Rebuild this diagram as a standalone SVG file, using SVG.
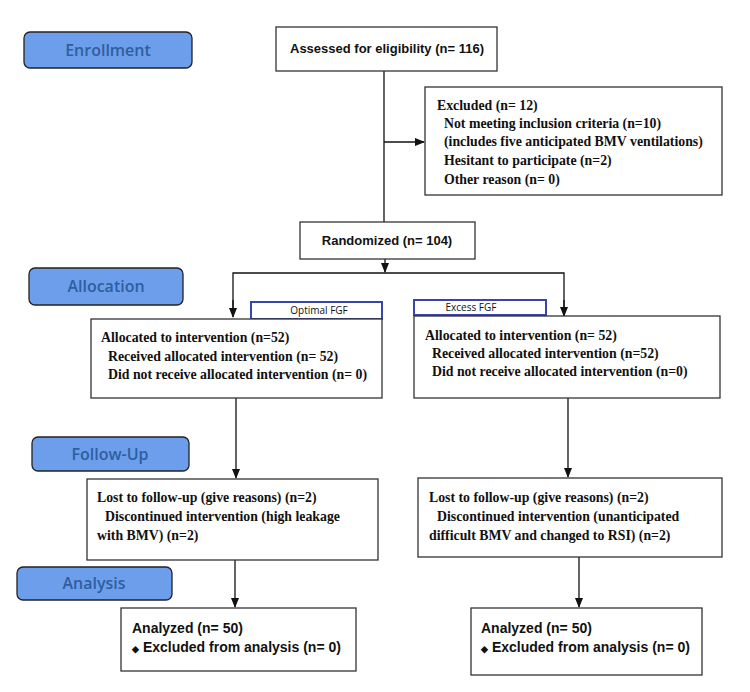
<svg xmlns="http://www.w3.org/2000/svg" width="750" height="692" viewBox="0 0 750 692">
<style>
.stage{fill:#6d9eeb;stroke:#222;stroke-width:1.3}
.stxt{font-family:"Open Sans","Noto Sans",sans-serif;font-weight:600;font-size:16px;fill:#2f5e9f;text-anchor:middle}
.box{fill:#fff;stroke:#333;stroke-width:1.3}
.tag{fill:#fff;stroke:#3a44b0;stroke-width:2}
.tagt{font-family:"Open Sans","Noto Sans",sans-serif;font-size:10px;fill:#111}
.tb{font-family:"Liberation Serif","Times New Roman",serif;font-weight:bold;font-size:13.8px;fill:#111}
.ab{font-family:"Liberation Sans",Arial,sans-serif;font-weight:bold;font-size:13px;fill:#111}
.an{font-family:"Liberation Sans",Arial,sans-serif;font-weight:bold;font-size:14px;fill:#111}
.ln{stroke:#111;stroke-width:1.3;fill:none}
</style>
<defs>
<marker id="ah" markerWidth="10" markerHeight="10" refX="9" refY="5" orient="auto" markerUnits="userSpaceOnUse">
<path d="M0,1 L10,5 L0,9 Z" fill="#111"/>
</marker>
</defs>
<rect width="750" height="692" fill="#fff"/>

<g id="enrollment"><rect class="stage" x="24" y="32" width="168" height="36" rx="6"/><text class="stxt" x="108" y="56">Enrollment</text></g>
<g id="allocation"><rect class="stage" x="29" y="268" width="154" height="37" rx="6"/><text class="stxt" x="106" y="292">Allocation</text></g>
<g id="followup"><rect class="stage" x="32" y="437" width="157" height="34" rx="6"/><text class="stxt" x="110" y="460">Follow-Up</text></g>
<g id="analysis"><rect class="stage" x="17" y="567" width="155" height="33" rx="6"/><text class="stxt" x="94" y="589">Analysis</text></g>

<g id="connectors">
<line class="ln" x1="384" y1="71" x2="384" y2="222"/>
<line class="ln" x1="384" y1="142" x2="424" y2="142" marker-end="url(#ah)"/>
<line class="ln" x1="385" y1="259" x2="385" y2="272" marker-end="url(#ah)"/>
<polyline class="ln" points="233,316 233,273 564,273 564,316"/>
<line class="ln" x1="233" y1="300" x2="233" y2="317" marker-end="url(#ah)"/>
<line class="ln" x1="564" y1="300" x2="564" y2="316" marker-end="url(#ah)"/>
<line class="ln" x1="236" y1="398" x2="236" y2="478" marker-end="url(#ah)"/>
<line class="ln" x1="568" y1="398" x2="568" y2="477" marker-end="url(#ah)"/>
<line class="ln" x1="235" y1="560" x2="235" y2="607" marker-end="url(#ah)"/>
<line class="ln" x1="579" y1="557" x2="579" y2="607" marker-end="url(#ah)"/>
</g>

<g id="assessed"><rect class="box" x="276" y="27" width="221" height="44"/><text class="ab" x="387" y="53" text-anchor="middle">Assessed for eligibility (n= 116)</text></g>

<g id="excluded"><rect class="box" x="425" y="87" width="297" height="108"/>
<text class="tb" x="437" y="110">Excluded (n= 12)</text>
<text class="tb" x="444" y="128">Not meeting inclusion criteria (n=10)</text>
<text class="tb" x="444" y="146">(includes five anticipated BMV ventilations)</text>
<text class="tb" x="444" y="165">Hesitant to participate (n=2)</text>
<text class="tb" x="444" y="184">Other reason (n= 0)</text>
</g>

<g id="randomized"><rect class="box" x="300" y="222" width="175" height="37"/><text class="ab" x="387" y="245" text-anchor="middle">Randomized (n= 104)</text></g>

<g id="optimal"><rect class="tag" x="251" y="302" width="131" height="17"/><text class="tagt" x="319" y="314" text-anchor="middle">Optimal FGF</text></g>
<g id="excess"><rect class="tag" x="414" y="300" width="132" height="15"/><text class="tagt" x="471" y="311" text-anchor="middle">Excess FGF</text></g>

<g id="alloc-left"><rect class="box" x="91" y="319" width="291" height="79"/>
<text class="tb" x="101" y="342">Allocated to intervention (n=52)</text>
<text class="tb" x="108" y="361">Received allocated intervention (n= 52)</text>
<text class="tb" x="108" y="379">Did not receive allocated intervention (n= 0)</text>
</g>
<g id="alloc-right"><rect class="box" x="414" y="316" width="306" height="82"/>
<text class="tb" x="425" y="340">Allocated to intervention (n= 52)</text>
<text class="tb" x="432" y="358">Received allocated intervention (n=52)</text>
<text class="tb" x="432" y="376">Did not receive allocated intervention (n=0)</text>
</g>

<g id="follow-left"><rect class="box" x="87" y="479" width="291" height="81"/>
<text class="tb" x="97" y="502">Lost to follow-up (give reasons) (n=2)</text>
<text class="tb" x="105" y="521">Discontinued intervention (high leakage</text>
<text class="tb" x="97" y="540">with BMV) (n=2)</text>
</g>
<g id="follow-right"><rect class="box" x="418" y="478" width="304" height="79"/>
<text class="tb" x="429" y="502">Lost to follow-up (give reasons) (n=2)</text>
<text class="tb" x="437" y="521">Discontinued intervention (unanticipated</text>
<text class="tb" x="429" y="540">difficult BMV and changed to RSI) (n=2)</text>
</g>

<g id="analyzed-left"><rect class="box" x="121" y="608" width="235" height="63"/>
<text class="an" x="132" y="633">Analyzed (n= 50)</text>
<text class="an" x="132" y="652"><tspan font-size="9">◆</tspan> Excluded from analysis (n= 0)</text>
</g>
<g id="analyzed-right"><rect class="box" x="471" y="608" width="231" height="67"/>
<text class="an" x="481" y="633">Analyzed (n= 50)</text>
<text class="an" x="481" y="652"><tspan font-size="9">◆</tspan> Excluded from analysis (n= 0)</text>
</g>
</svg>
